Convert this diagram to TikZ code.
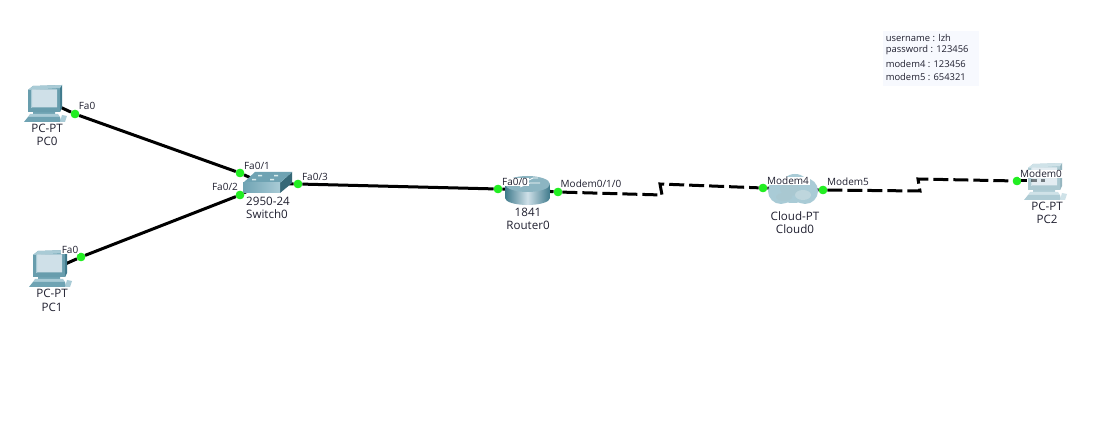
\documentclass[tikz,border=0pt]{standalone}
\usepackage{fontspec}
\setmainfont{Open Sans}
\definecolor{teald}{HTML}{3F7A8C}
\definecolor{tealm}{HTML}{6FA3B3}
\definecolor{teall}{HTML}{A9CBD6}
\definecolor{screenc}{HTML}{CFE0E8}
\definecolor{inktext}{HTML}{202030}
\definecolor{portgreen}{HTML}{22EE22}
\definecolor{notebg}{HTML}{F7F9FE}
\tikzset{
  x=1pt,y=-1pt,
  lbl/.style={inner sep=0.6pt,font=\fontsize{11.6}{14}\selectfont,text=inktext},
  notelbl/.style={inner sep=0.6pt,font=\fontsize{9.4}{12}\selectfont,text=inktext},
  plbl/.style={inner sep=0.6pt,font=\fontsize{10}{12}\selectfont,text=inktext,fill=white},
  port/.style={circle,fill=portgreen,inner sep=0,minimum size=8.5pt},
  wire/.style={line width=3pt,black},
  serial/.style={wire,dash pattern=on 15pt off 5pt},
}
\newcommand{\pcicon}[2][1]{%
\begin{scope}[shift={#2},opacity=#1,transparency group]
  \fill[tealm] (28,90) -- (33,86) -- (62,85) -- (60,112) -- (28,112) -- cycle;
  \fill[teald] (60,88) -- (62,85) -- (62,108) -- (60,112) -- cycle;
  \fill[teall] (28,90) -- (33,86) -- (62,85) -- (60,88) -- cycle;
  \fill[tealm!85!teald] (28,90) rectangle (60,112);
  \fill[screenc] (32,89.5) rectangle (57,107.5);
  \fill[teall] (31,90) rectangle (32,108);
  \fill[tealm] (33,112) rectangle (55,114);
  \fill[teall] (30,114) -- (58,114) -- (60,117) -- (28,117) -- cycle;
  \fill[tealm] (28,117) -- (60,117) -- (61,122) -- (24,122) -- cycle;
  \fill[teall] (62,115) -- (67,116) -- (65,122) -- (60,122) -- cycle;
\end{scope}}
\begin{document}
\begin{tikzpicture}
\useasboundingbox (0,0) rectangle (1114,430);
\fill[white] (0,0) rectangle (1114,430);

% note
\node[fill=notebg,minimum width=96pt,minimum height=55pt,inner sep=0,anchor=north west] (note) at (883,31) {};
\node[notelbl,anchor=west] (noteA) at (885,37.5) {username : lzh};
\node[notelbl,anchor=west] (noteB) at (885,50.5) {password : 123456};
\node[notelbl,anchor=west] (noteC) at (885,63.5) {modem4 : 123456};
\node[notelbl,anchor=west] (noteD) at (885,76.5) {modem5 : 654321};

% device anchors
\coordinate (pc0) at (60,107);
\coordinate (pc1) at (63,265);
\coordinate (sw) at (262,183);
\coordinate (rt) at (528,190);
\coordinate (cl) at (793,189);
\coordinate (pc2) at (1045,181);
\coordinate (b1a) at (662,195);
\coordinate (b1b) at (660,184);
\coordinate (b2a) at (920,191);
\coordinate (b2b) at (918,179);

% ports
\node[port] (p0) at (75,114) {};
\node[port] (p1) at (81,257) {};
\node[port] (s1) at (240,173) {};
\node[port] (s2) at (240,195) {};
\node[port] (s3) at (298,184) {};
\node[port] (r0) at (498,189) {};
\node[port] (r1) at (558,192) {};
\node[port] (c4) at (763,188) {};
\node[port] (c5) at (823,190) {};
\node[port] (m0) at (1017,181) {};

% connectors (beneath the icons)
\draw[wire] (pc0) -- (p0) -- (s1) -- (sw);
\draw[wire] (pc1) -- (p1) -- (s2) -- (sw);
\draw[wire] (sw) -- (s3) -- (r0) -- (rt);
\draw[wire] (rt) -- (r1);
\draw[serial] (r1) -- (b1a) -- (b1b) -- (c4);
\draw[wire] (c4) -- (cl) -- (c5);
\draw[serial] (c5) -- (b2a) -- (b2b) -- (m0);
\draw[wire,dash pattern=on 6pt off 4pt] (m0) -- (pc2);

% PCs
\pcicon{(0,0)}
\pcicon{(5,165)}
\pcicon[0.55]{(1000,78)}

% switch
\fill[teald!85!black] (280,183) -- (292,172) -- (292,183) -- (280,193) -- cycle;
\fill[tealm] (243,183) -- (255,172) -- (292,172) -- (280,183) -- cycle;
\shade[left color=tealm,right color=teall] (243,183) rectangle (280,193);
\fill[white!85!teal] (258,175) rectangle (262,176.5) (274,175) rectangle (278,176.5)
  (252,179) rectangle (256,180.5) (270,179) rectangle (274,180.5);

% router
\shade[left color=teald,right color=teald,middle color=screenc]
  (505,184) -- (505,198) arc[start angle=180,end angle=360,x radius=22.5,y radius=-7] -- (550,184) -- cycle;
\fill[tealm!80!white] (527.5,184) ellipse[x radius=22.5,y radius=8];
\draw[white,line width=0.8pt] (520,187) -- (530,183) -- (540,183) (515,182) -- (525,182) -- (533,178) -- (538,178);

% cloud
\fill[teall] (781,191) circle[radius=13];
\fill[teall] (805,191) circle[radius=13];
\fill[teall] (793,193) ellipse[x radius=18,y radius=10];
\fill[teall] (795,186) ellipse[x radius=14,y radius=12];
\fill[tealm!60!white] (790,189) ellipse[x radius=10,y radius=7];
\fill[tealm!45!white] (803,195) ellipse[x radius=8,y radius=5];
\fill[tealm!60!white] (784,197) ellipse[x radius=8,y radius=4];

% port dots over wires
\foreach \p in {p0,p1,s1,s2,s3,r0,r1,c4,c5,m0}{\fill[portgreen] (\p) circle[radius=4.2];}

% device labels
\node[lbl] (d0a) at (47,128.5) {PC-PT};
\node[lbl] (d0b) at (47,141) {PC0};
\node[lbl] (d1a) at (52,293.5) {PC-PT};
\node[lbl] (d1b) at (52,307) {PC1};
\node[lbl] (d2a) at (1047,206.5) {PC-PT};
\node[lbl] (d2b) at (1047,219.5) {PC2};
\node[lbl] (d3a) at (268,201) {2950-24};
\node[lbl] (d3b) at (267,214) {Switch0};
\node[lbl] (d4a) at (528,212) {1841};
\node[lbl] (d4b) at (528,225) {Router0};
\node[lbl] (d5a) at (795,216) {Cloud-PT};
\node[lbl] (d5b) at (795,229) {Cloud0};

% port labels
\node[plbl] (l0) at (87,106) {Fa0};
\node[plbl] (l1) at (70,250) {Fa0};
\node[plbl] (l2) at (257,166) {Fa0/1};
\node[plbl] (l3) at (225,187) {Fa0/2};
\node[plbl] (l4) at (315,177) {Fa0/3};
\node[plbl] (l5) at (515,182) {Fa0/0};
\node[plbl] (l6) at (591,184) {Modem0/1/0};
\node[plbl] (l7) at (788,181) {Modem4};
\node[plbl] (l8) at (848,182) {Modem5};
\node[plbl] (l9) at (1041,174) {Modem0};
\end{tikzpicture}
\end{document}
